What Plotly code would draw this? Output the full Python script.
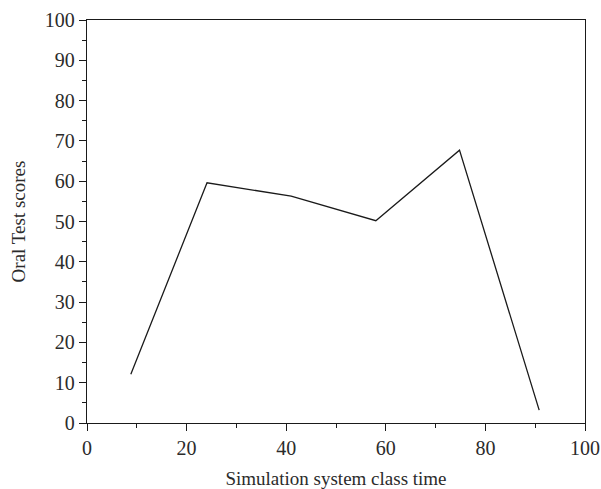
import plotly.graph_objects as go

class_time = [8.8, 24.1, 41.0, 58.0, 74.8, 90.8]
oral_scores = [12.1, 59.6, 56.3, 50.2, 67.7, 3.2]

x_ticks = [0, 20, 40, 60, 80, 100]
y_ticks = [0, 10, 20, 30, 40, 50, 60, 70, 80, 90, 100]

font_family = "Liberation Serif, DejaVu Serif, serif"
axis_color = "#1a1a1a"
text_color = "#2b2b2b"

fig = go.Figure()
fig.add_trace(go.Scatter(
    x=class_time, y=oral_scores, mode="lines",
    line=dict(color="#1a1a1a", width=1.3),
    showlegend=False, hoverinfo="skip",
))

common = dict(
    showgrid=False, zeroline=False, showline=True, linecolor=axis_color,
    linewidth=1.3, ticks="outside", ticklen=7, tickwidth=1.2,
    tickcolor=axis_color, mirror=True, automargin=False,
    tickfont=dict(family=font_family, size=20, color=text_color),
)

fig.update_layout(
    width=601, height=489,
    margin=dict(l=87, r=16, t=20, b=66),
    paper_bgcolor="white", plot_bgcolor="white",
    xaxis=dict(range=[0, 100], tickvals=x_ticks,
               minor=dict(ticks="outside", ticklen=4, dtick=10, tickcolor=axis_color, tickwidth=1.2),
               title=dict(text="Simulation system class time", standoff=14,
                          font=dict(family=font_family, size=19, color=text_color)),
               **common),
    yaxis=dict(range=[0, 100], tickvals=y_ticks,
               minor=dict(ticks="outside", ticklen=4, dtick=5, tickcolor=axis_color, tickwidth=1.2),
               title=dict(text="Oral Test scores", standoff=14,
                          font=dict(family=font_family, size=19, color=text_color)),
               **common),
)

fig.write_html("out.html")
